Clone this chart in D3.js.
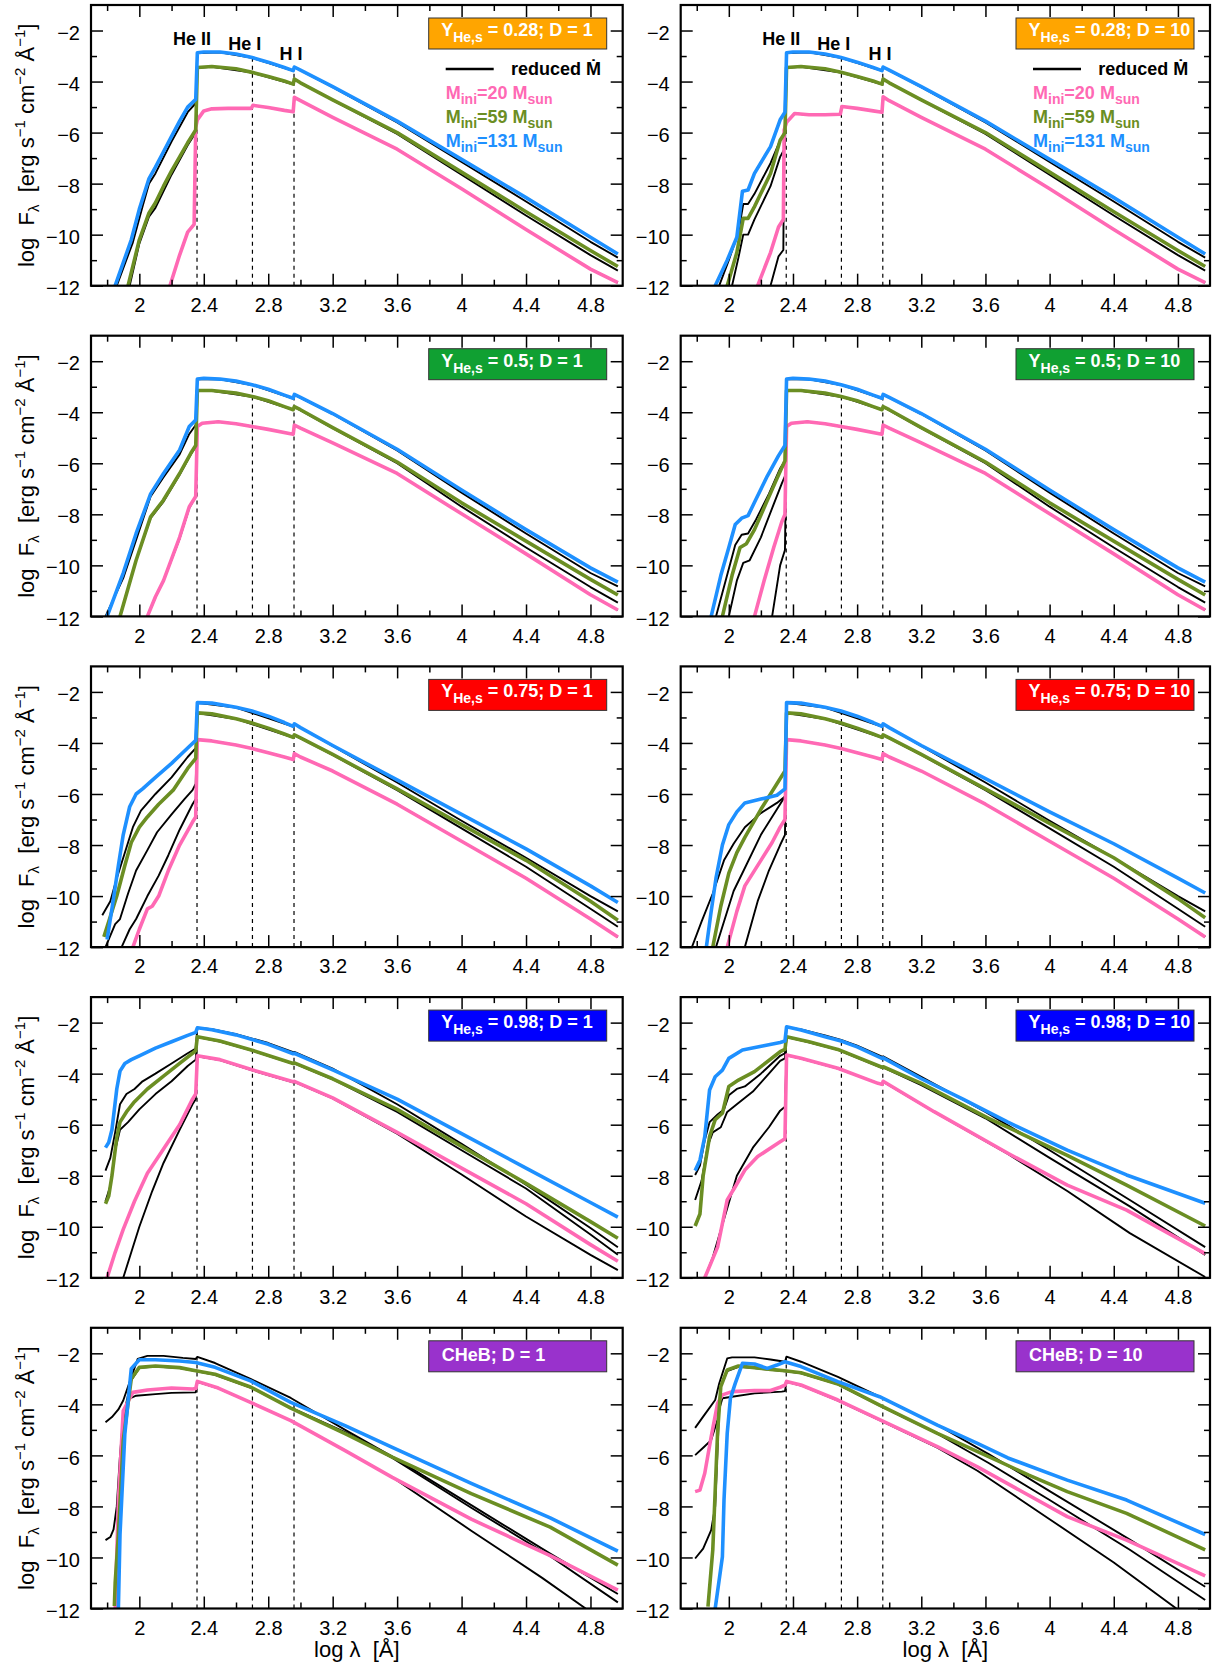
<!DOCTYPE html>
<html><head><meta charset="utf-8">
<script src="https://cdn.jsdelivr.net/npm/d3@7"></script>
<style>
body{margin:0;background:#fff}
svg{display:block}
text{font-family:"Liberation Sans",Arial,Helvetica,sans-serif;white-space:pre}
</style>
</head><body>
<svg id="c" width="1217" height="1673"></svg>
<script>
// ---------------- DATA ----------------
const yHeLabels = ["0.28", "0.5", "0.75", "0.98", null];
const dLabels = ["1", "10"];
const boxColors = ["#FFA500", "#10A032", "#FF0000", "#0000FF", "#9932CC"];
const edgeNames = ["He II", "He I", "H I"];
const edgeX = [2.358, 2.702, 2.960];
const edgeLabelPos = [[2.327, -2.57], [2.654, -2.76], [2.942, -3.16]];
const xMajor = [2, 2.4, 2.8, 3.2, 3.6, 4, 4.4, 4.8];
const xMinor = [1.8, 2.2, 2.6, 3.0, 3.4, 3.8, 4.2, 4.6];
const yMajor = [-2, -4, -6, -8, -10, -12];
const yMinor = [-3, -5, -7, -9, -11];
const massLabels = ["20", "59", "131"];

// row 1 (Y=0.28) shared upper parts
const r1_blueTop = [[2.36,-2.87],[2.4,-2.84],[2.5,-2.84],[2.6,-2.92],[2.7,-3.06],[2.8,-3.24],[2.9,-3.45],[2.955,-3.57],[2.962,-3.43],[3.0,-3.55],[3.2,-4.2],[3.6,-5.55],[4.0,-7.05],[4.4,-8.55],[4.8,-10.1],[4.97,-10.76]];
const r1_blueRTop = [[2.36,-2.88],[2.5,-2.85],[2.7,-3.07],[2.955,-3.58],[2.962,-3.44],[3.2,-4.22],[3.6,-5.6],[4.0,-7.15],[4.4,-8.7],[4.8,-10.28],[4.97,-10.9]];
const r1_greenTop = [[2.36,-3.45],[2.45,-3.41],[2.6,-3.5],[2.7,-3.64],[2.8,-3.8],[2.9,-3.98],[2.955,-4.1],[2.962,-3.9],[3.0,-4.05],[3.2,-4.72],[3.6,-6.0],[4.0,-7.55],[4.4,-9.1],[4.8,-10.62],[4.97,-11.25]];
const r1_greenRTop = [[2.36,-3.46],[2.45,-3.42],[2.7,-3.65],[2.955,-4.11],[2.962,-3.91],[3.2,-4.73],[3.6,-6.05],[4.0,-7.65],[4.4,-9.25],[4.8,-10.8],[4.97,-11.41]];
const p1_pinkTop = [[2.36,-5.5],[2.4,-5.15],[2.45,-5.07],[2.55,-5.05],[2.695,-5.05],[2.705,-4.93],[2.8,-5.02],[2.9,-5.13],[2.955,-5.18],[2.962,-4.62],[3.0,-4.75],[3.2,-5.4],[3.6,-6.65],[4.0,-8.2],[4.4,-9.8],[4.8,-11.35],[4.97,-11.88]];
const p2_pinkTop = [[2.36,-5.6],[2.41,-5.25],[2.5,-5.3],[2.6,-5.3],[2.695,-5.28],[2.705,-4.98],[2.8,-5.05],[2.9,-5.15],[2.955,-5.2],[2.962,-4.6],[3.0,-4.75],[3.2,-5.4],[3.6,-6.65],[4.0,-8.2],[4.4,-9.8],[4.8,-11.35],[4.97,-11.88]];

// panel 1: Y=0.28, D=1
const p1_blueRise = [[1.85,-12],[1.95,-10.2],[2.0,-9.0],[2.06,-7.8],[2.1,-7.35],[2.15,-6.75],[2.2,-6.15],[2.25,-5.55],[2.3,-5.0],[2.35,-4.7]];
const p1_blueRRise = [[1.86,-12],[1.96,-10.3],[2.02,-8.9],[2.06,-8.0],[2.1,-7.6],[2.2,-6.35],[2.3,-5.2],[2.35,-4.85]];
const p1_greenRise = [[1.93,-12],[2.0,-10.2],[2.06,-9.15],[2.1,-8.75],[2.15,-8.1],[2.2,-7.5],[2.25,-6.95],[2.3,-6.4],[2.35,-5.9]];
const p1_greenRRise = [[1.94,-12],[2.0,-10.35],[2.06,-9.3],[2.1,-8.95],[2.2,-7.65],[2.3,-6.5],[2.35,-6.0]];
const p1_pinkRise = [[2.19,-12],[2.25,-10.8],[2.3,-9.9],[2.34,-9.6],[2.35,-5.8]];
const p1_pinkRRise = [[2.19,-12],[2.25,-10.8],[2.3,-9.9],[2.34,-9.6],[2.35,-5.8]];

// panel 2: Y=0.28, D=10
const p2_blueRise = [[1.915,-12],[1.99,-11.0],[2.05,-10.1],[2.085,-8.3],[2.12,-8.25],[2.16,-7.6],[2.26,-6.55],[2.32,-5.5],[2.35,-5.2]];
const p2_blueRRise = [[1.94,-12],[2.0,-11.0],[2.06,-9.9],[2.09,-8.8],[2.12,-8.8],[2.16,-8.4],[2.26,-7.2],[2.32,-6.3],[2.35,-6.0]];
const p2_greenRise = [[1.99,-12],[2.05,-10.7],[2.09,-9.36],[2.12,-9.36],[2.16,-8.9],[2.26,-7.6],[2.32,-6.3],[2.35,-6.0]];
const p2_greenRRise = [[2.02,-12],[2.06,-10.9],[2.09,-10.0],[2.12,-10.0],[2.16,-9.4],[2.26,-8.1],[2.32,-6.95],[2.35,-6.6]];
const p2_pinkRise = [[2.18,-12],[2.26,-10.7],[2.31,-9.7],[2.34,-9.4],[2.345,-5.9]];
const p2_pinkRRise = [[2.26,-12],[2.31,-10.85],[2.34,-10.6],[2.345,-5.9]];

// row 2 (Y=0.5) shared upper parts
const r2_blueTop = [[2.36,-2.7],[2.4,-2.67],[2.5,-2.7],[2.6,-2.78],[2.7,-2.92],[2.8,-3.1],[2.9,-3.33],[2.955,-3.45],[2.962,-3.3],[3.0,-3.42],[3.2,-4.05],[3.6,-5.45],[4.0,-7.05],[4.4,-8.6],[4.8,-10.1],[4.97,-10.66]];
const r2_blueRTop = [[2.36,-2.71],[2.5,-2.71],[2.7,-2.93],[2.955,-3.46],[2.962,-3.31],[3.2,-4.07],[3.6,-5.5],[4.0,-7.15],[4.4,-8.75],[4.8,-10.3],[4.97,-10.82]];
const r2_greenTop = [[2.36,-3.15],[2.45,-3.15],[2.6,-3.25],[2.7,-3.38],[2.8,-3.55],[2.9,-3.78],[2.955,-3.9],[2.962,-3.78],[3.0,-3.9],[3.2,-4.6],[3.6,-5.95],[4.0,-7.55],[4.4,-9.05],[4.8,-10.55],[4.97,-11.16]];
const r2_greenRTop = [[2.36,-3.16],[2.45,-3.16],[2.7,-3.39],[2.955,-3.91],[2.962,-3.79],[3.2,-4.62],[3.6,-6.0],[4.0,-7.7],[4.4,-9.3],[4.8,-10.85],[4.97,-11.46]];
const r2_pinkTop = [[2.36,-4.56],[2.39,-4.43],[2.49,-4.37],[2.6,-4.45],[2.69,-4.55],[2.8,-4.67],[2.93,-4.83],[2.955,-4.86],[2.962,-4.5],[3.0,-4.62],[3.2,-5.2],[3.6,-6.4],[4.0,-7.98],[4.4,-9.55],[4.8,-11.15],[4.97,-11.75]];

// panel 3: Y=0.5, D=1
const p3_blueRise = [[1.8,-12],[1.9,-10.3],[1.98,-8.75],[2.07,-7.2],[2.15,-6.4],[2.25,-5.48],[2.31,-4.56],[2.35,-4.3]];
const p3_blueRRise = [[1.79,-12],[1.9,-10.5],[1.98,-9.0],[2.07,-7.3],[2.15,-6.55],[2.25,-5.65],[2.31,-4.85],[2.35,-4.5]];
const p3_greenRise = [[1.88,-12],[1.98,-9.8],[2.07,-8.1],[2.15,-7.44],[2.25,-6.4],[2.32,-5.6],[2.35,-5.3]];
const p3_greenRRise = [[1.88,-12],[1.98,-9.8],[2.07,-8.15],[2.15,-7.5],[2.25,-6.45],[2.32,-5.65],[2.35,-5.35]];
const p3_pinkRise = [[2.05,-12],[2.1,-11.23],[2.15,-10.6],[2.25,-8.9],[2.31,-7.7],[2.35,-7.3]];
const p3_pinkRRise = [[2.05,-12],[2.1,-11.25],[2.15,-10.6],[2.25,-8.95],[2.31,-7.75],[2.35,-7.3]];

// panel 4: Y=0.5, D=10
const p4_blueRise = [[1.89,-12],[1.95,-10.4],[2.0,-9.3],[2.04,-8.4],[2.08,-8.15],[2.12,-8.05],[2.17,-7.4],[2.24,-6.5],[2.31,-5.7],[2.35,-5.3]];
const p4_blueRRise = [[1.92,-12],[1.98,-10.6],[2.04,-9.2],[2.08,-8.8],[2.12,-8.75],[2.17,-8.2],[2.25,-7.2],[2.32,-6.2],[2.35,-5.9]];
const p4_greenRise = [[1.96,-12],[2.02,-10.4],[2.07,-9.3],[2.11,-9.15],[2.16,-8.6],[2.23,-7.6],[2.3,-6.6],[2.35,-5.9]];
const p4_greenRRise = [[2.0,-12],[2.05,-10.6],[2.09,-9.9],[2.13,-9.8],[2.2,-8.9],[2.28,-7.6],[2.33,-6.8],[2.35,-6.5]];
const p4_pinkRise = [[2.16,-12],[2.22,-10.6],[2.28,-9.3],[2.33,-8.3],[2.35,-8.0]];
const p4_pinkRRise = [[2.27,-12],[2.32,-10.0],[2.35,-9.4]];

// row 3 (Y=0.75) shared upper parts
const r3_blueTop = [[2.36,-2.42],[2.45,-2.44],[2.6,-2.6],[2.7,-2.75],[2.8,-2.95],[2.9,-3.2],[2.955,-3.35],[2.962,-3.25],[3.0,-3.4],[3.2,-4.1]];
const r3_blueRTop = [[2.36,-2.43],[2.6,-2.61],[2.955,-3.36],[2.962,-3.26],[3.2,-4.12],[3.6,-5.55],[4.0,-7.05],[4.4,-8.5],[4.8,-10.0],[4.97,-10.6]];
const r3_greenTop = [[2.36,-2.82],[2.45,-2.86],[2.6,-3.05],[2.7,-3.22],[2.8,-3.42],[2.9,-3.65],[2.955,-3.78],[2.962,-3.68],[3.0,-3.8],[3.2,-4.45]];
const r3_greenRTop = [[2.36,-2.83],[2.6,-3.06],[2.955,-3.79],[2.962,-3.69],[3.2,-4.47],[3.6,-5.85],[4.0,-7.35],[4.4,-8.85],[4.8,-10.5],[4.97,-11.2]];
const r3_pinkTop = [[2.36,-3.87],[2.45,-3.92],[2.6,-4.08],[2.7,-4.22],[2.8,-4.38],[2.9,-4.55],[2.955,-4.65],[2.962,-4.42],[3.0,-4.55],[3.2,-5.1],[3.6,-6.4],[4.0,-7.85],[4.4,-9.3],[4.8,-10.9],[4.97,-11.6]];

// panel 5: Y=0.75, D=1
const p5_blueRise = [[1.8,-11.7],[1.83,-10.5],[1.87,-8.8],[1.9,-7.6],[1.94,-6.5],[1.98,-6.0],[2.02,-5.8],[2.1,-5.35],[2.2,-4.8],[2.3,-4.2],[2.35,-3.9]];
const p5_blueTail = [[3.6,-5.45],[4.0,-6.8],[4.4,-8.15],[4.8,-9.6],[4.97,-10.25]];
const p5_blueRRise = [[1.77,-10.75],[1.82,-10.2],[1.86,-9.3],[1.91,-8.3],[1.96,-7.3],[2.01,-6.65],[2.1,-6.0],[2.2,-5.35],[2.3,-4.55],[2.35,-4.2]];
const p5_greenRise = [[1.78,-11.6],[1.82,-10.8],[1.86,-10.0],[1.91,-8.8],[1.95,-7.9],[2.0,-7.3],[2.05,-6.9],[2.12,-6.4],[2.21,-5.85],[2.3,-5.0],[2.35,-4.6]];
const p5_greenTail = [[3.6,-5.8],[4.0,-7.2],[4.4,-8.6],[4.8,-10.2],[4.97,-10.95]];
const p5_greenRRise = [[1.79,-12],[1.85,-11.1],[1.88,-10.9],[1.93,-9.9],[1.98,-9.0],[2.05,-8.2],[2.11,-7.5],[2.2,-6.8],[2.28,-6.2],[2.33,-5.85],[2.35,-5.6]];
const p5_pinkRise = [[1.96,-12],[2.0,-11.3],[2.05,-10.5],[2.08,-10.4],[2.12,-10.0],[2.18,-9.0],[2.25,-8.0],[2.33,-7.1],[2.35,-6.9]];
const p5_pinkRRise = [[1.89,-12],[1.94,-11.3],[1.98,-10.9],[2.05,-10.0],[2.12,-9.2],[2.18,-8.4],[2.25,-7.4],[2.33,-6.4],[2.35,-6.2]];

// panel 6: Y=0.75, D=10
const p6_blueRise = [[1.86,-12],[1.89,-10.6],[1.92,-9.3],[1.96,-8.0],[2.0,-7.2],[2.05,-6.7],[2.1,-6.35],[2.2,-6.2],[2.3,-6.05],[2.35,-5.8]];
const p6_blueTail = [[3.6,-5.4],[4.0,-6.7],[4.4,-7.95],[4.8,-9.3],[4.97,-9.88]];
const p6_blueRRise = [[1.77,-12],[1.83,-11.0],[1.9,-9.9],[1.97,-8.6],[2.03,-7.95],[2.1,-7.3],[2.2,-6.75],[2.3,-6.35],[2.35,-6.1]];
const p6_greenRise = [[1.9,-12],[1.95,-10.4],[2.0,-9.1],[2.05,-8.3],[2.1,-7.7],[2.2,-6.6],[2.3,-5.6],[2.35,-5.1]];
const p6_greenTail = [[3.6,-5.8],[4.0,-7.15],[4.4,-8.5],[4.8,-10.1],[4.97,-10.85]];
const p6_greenRRise = [[1.92,-12],[1.97,-11.0],[2.03,-9.8],[2.1,-8.9],[2.2,-7.6],[2.3,-6.6],[2.35,-6.1]];
const p6_pinkRise = [[1.99,-12],[2.05,-10.6],[2.1,-9.6],[2.15,-9.1],[2.2,-8.6],[2.27,-7.9],[2.32,-7.3],[2.35,-7.0]];
const p6_pinkRRise = [[2.1,-12],[2.18,-10.2],[2.25,-9.0],[2.32,-8.0],[2.35,-7.6]];

// panel 7: Y=0.98, D=1
const p7_blue = [[1.79,-6.9],[1.81,-6.7],[1.83,-6.2],[1.86,-4.6],[1.88,-3.9],[1.91,-3.6],[1.95,-3.45],[2.0,-3.3],[2.1,-3.0],[2.2,-2.75],[2.3,-2.5],[2.35,-2.38],[2.36,-2.2],[2.45,-2.28],[2.6,-2.48],[2.8,-2.85],[2.955,-3.22],[2.962,-3.2],[3.2,-3.85],[3.6,-5.0],[4.0,-6.35],[4.4,-7.7],[4.8,-9.05],[4.97,-9.62]];
const p7_blueR = [[1.79,-7.8],[1.82,-7.3],[1.85,-6.3],[1.88,-5.2],[1.92,-4.8],[1.97,-4.6],[2.02,-4.3],[2.1,-4.0],[2.2,-3.6],[2.3,-3.2],[2.35,-3.02],[2.36,-2.2],[2.45,-2.26],[2.6,-2.45],[2.8,-2.8],[2.955,-3.16],[2.962,-3.15],[3.2,-3.8],[3.6,-5.2],[4.0,-6.75],[4.4,-8.35],[4.8,-10.05],[4.97,-10.8]];
const p7_green = [[1.79,-9.1],[1.81,-8.8],[1.83,-8.0],[1.86,-6.5],[1.88,-5.9],[1.92,-5.5],[1.97,-5.1],[2.05,-4.6],[2.15,-4.1],[2.25,-3.6],[2.33,-3.2],[2.35,-3.1],[2.36,-2.55],[2.5,-2.72],[2.7,-3.08],[2.955,-3.6],[2.962,-3.58],[3.2,-4.2],[3.6,-5.4],[4.0,-6.85],[4.4,-8.3],[4.8,-9.8],[4.97,-10.45]];
const p7_greenR = [[1.79,-9.0],[1.82,-8.4],[1.85,-7.0],[1.88,-6.2],[1.93,-5.9],[2.0,-5.4],[2.1,-4.8],[2.2,-4.3],[2.3,-3.7],[2.35,-3.45],[2.36,-2.57],[2.5,-2.74],[2.7,-3.1],[2.955,-3.62],[2.962,-3.6],[3.2,-4.22],[3.6,-5.5],[4.0,-7.0],[4.4,-8.5],[4.8,-10.3],[4.97,-11.1]];
const p7_pink = [[1.8,-12],[1.85,-11.0],[1.9,-10.1],[1.97,-9.0],[2.05,-7.9],[2.15,-6.95],[2.25,-6.0],[2.33,-5.0],[2.35,-4.8],[2.36,-3.3],[2.5,-3.45],[2.7,-3.85],[2.955,-4.32],[2.962,-4.3],[3.2,-4.95],[3.6,-6.3],[4.0,-7.7],[4.4,-9.1],[4.8,-10.7],[4.97,-11.35]];
const p7_pinkR = [[1.9,-12],[1.95,-11.0],[2.0,-10.0],[2.08,-8.6],[2.15,-7.5],[2.25,-6.2],[2.33,-5.2],[2.35,-5.0],[2.36,-3.32],[2.5,-3.47],[2.7,-3.87],[2.955,-4.34],[2.962,-4.32],[3.2,-4.97],[3.6,-6.35],[4.0,-7.95],[4.4,-9.6],[4.8,-11.1],[4.97,-11.7]];

// panel 8: Y=0.98, D=10
const p8_blue = [[1.79,-7.8],[1.82,-7.39],[1.85,-6.47],[1.88,-4.64],[1.915,-4.12],[1.96,-3.86],[2.0,-3.4],[2.085,-3.07],[2.21,-2.92],[2.32,-2.78],[2.35,-2.72],[2.36,-2.16],[2.45,-2.29],[2.6,-2.55],[2.7,-2.72],[2.8,-2.95],[2.955,-3.4],[2.962,-3.38],[3.2,-4.2],[3.46,-5.0],[3.74,-5.9],[4.11,-7.0],[4.48,-7.97],[4.97,-9.08]];
const p8_blueR = [[1.79,-7.97],[1.82,-7.6],[1.85,-6.6],[1.88,-5.9],[1.93,-5.6],[1.97,-5.4],[2.0,-4.85],[2.05,-4.6],[2.1,-4.5],[2.2,-4.0],[2.32,-3.3],[2.35,-3.2],[2.36,-2.18],[2.45,-2.27],[2.6,-2.5],[2.7,-2.68],[2.8,-2.9],[2.955,-3.33],[2.962,-3.32],[3.2,-4.12],[3.6,-5.5],[4.0,-7.0],[4.5,-8.95],[4.97,-10.8]];
const p8_green = [[1.79,-9.97],[1.82,-9.5],[1.84,-8.0],[1.88,-6.47],[1.915,-5.8],[1.96,-5.55],[2.0,-4.5],[2.06,-4.25],[2.16,-3.92],[2.32,-3.14],[2.35,-3.05],[2.36,-2.55],[2.5,-2.75],[2.68,-3.05],[2.955,-3.75],[2.962,-3.73],[3.2,-4.38],[3.62,-5.75],[4.11,-7.2],[4.48,-8.37],[4.97,-9.97]];
const p8_greenR = [[1.79,-8.95],[1.83,-8.2],[1.87,-6.8],[1.9,-6.3],[1.95,-6.1],[1.99,-5.5],[2.05,-5.2],[2.15,-4.7],[2.25,-4.0],[2.32,-3.5],[2.35,-3.4],[2.36,-2.57],[2.5,-2.77],[2.68,-3.07],[2.955,-3.77],[2.962,-3.75],[3.2,-4.45],[3.6,-5.75],[4.0,-7.3],[4.5,-9.2],[4.97,-11.1]];
const p8_pink = [[1.85,-12],[1.93,-10.8],[1.99,-8.95],[2.04,-8.43],[2.1,-7.78],[2.18,-7.25],[2.32,-6.67],[2.35,-6.55],[2.36,-3.27],[2.45,-3.4],[2.68,-3.79],[2.93,-4.38],[2.955,-4.42],[2.962,-4.3],[3.28,-5.49],[3.74,-7.12],[4.11,-8.37],[4.48,-9.35],[4.97,-11.05]];
const p8_pinkR = [[1.85,-12],[1.9,-11.2],[1.97,-9.7],[2.05,-8.0],[2.15,-6.9],[2.25,-6.1],[2.32,-5.45],[2.35,-5.3],[2.36,-3.28],[2.45,-3.41],[2.68,-3.8],[2.955,-4.43],[2.962,-4.31],[3.28,-5.5],[3.74,-7.15],[4.11,-8.6],[4.5,-10.25],[4.97,-11.97]];

// panel 9: CHeB, D=1
const p9_blue = [[1.87,-12],[1.88,-9.1],[1.91,-5.16],[1.95,-2.6],[2.0,-2.25],[2.1,-2.25],[2.25,-2.3],[2.35,-2.36],[2.47,-2.55],[2.69,-3.08],[2.94,-3.92],[3.28,-4.84],[3.57,-5.69],[4.06,-7.1],[4.55,-8.45],[4.97,-9.75]];
const p9_blueR = [[1.79,-4.7],[1.83,-4.5],[1.87,-4.2],[1.9,-3.85],[1.95,-2.94],[1.99,-2.22],[2.05,-2.1],[2.15,-2.1],[2.27,-2.18],[2.35,-2.22],[2.36,-2.14],[2.47,-2.38],[2.69,-3.0],[2.94,-3.75],[3.28,-5.01],[3.57,-6.05],[4.06,-7.95],[4.55,-9.85],[4.97,-11.43]];
const p9_green = [[1.845,-11.9],[1.85,-11.0],[1.87,-9.1],[1.9,-5.42],[1.95,-3.0],[2.0,-2.55],[2.1,-2.5],[2.25,-2.56],[2.35,-2.68],[2.47,-2.82],[2.69,-3.32],[2.94,-4.15],[3.28,-5.16],[3.57,-6.07],[4.06,-7.5],[4.55,-8.81],[4.97,-10.3]];
const p9_greenR = [[1.79,-9.32],[1.82,-9.2],[1.84,-8.9],[1.86,-8.0],[1.88,-6.0],[1.9,-4.5],[1.95,-3.05],[2.0,-2.57],[2.1,-2.52],[2.25,-2.58],[2.35,-2.7],[2.47,-2.84],[2.69,-3.34],[2.94,-4.13],[3.28,-5.1],[3.57,-6.1],[4.06,-8.05],[4.55,-9.95],[4.97,-11.76]];
const p9_pink = [[1.85,-12],[1.87,-7.8],[1.9,-4.25],[1.96,-3.53],[2.05,-3.44],[2.2,-3.36],[2.33,-3.4],[2.35,-3.38],[2.36,-3.1],[2.49,-3.36],[2.69,-3.92],[2.94,-4.64],[3.28,-5.82],[3.57,-6.86],[4.06,-8.5],[4.55,-9.93],[4.97,-11.28]];
const p9_pinkR = [[1.86,-12],[1.88,-8.0],[1.9,-4.6],[1.93,-3.8],[1.98,-3.66],[2.1,-3.6],[2.2,-3.55],[2.35,-3.53],[2.36,-3.12],[2.49,-3.37],[2.69,-3.92],[2.94,-4.64],[3.28,-5.82],[3.57,-6.86],[4.06,-8.95],[4.5,-10.8],[4.77,-12]];

// panel 10: CHeB, D=10
const p10_blue = [[1.915,-12],[1.96,-9.97],[1.97,-7.75],[1.99,-5.14],[2.01,-3.76],[2.04,-3.18],[2.085,-2.39],[2.16,-2.42],[2.24,-2.59],[2.3,-2.46],[2.35,-2.33],[2.45,-2.52],[2.68,-3.11],[2.94,-3.7],[3.3,-4.81],[3.55,-5.53],[3.74,-6.1],[4.11,-6.97],[4.48,-7.75],[4.97,-9.1]];
const p10_blueR = [[1.79,-4.92],[1.84,-4.48],[1.915,-3.83],[1.94,-3.18],[1.99,-2.2],[2.02,-2.16],[2.16,-2.16],[2.26,-2.24],[2.35,-2.33],[2.36,-2.13],[2.45,-2.33],[2.68,-2.92],[2.94,-3.7],[3.3,-4.81],[3.62,-5.95],[4.0,-7.4],[4.5,-9.3],[4.97,-11.15]];
const p10_green = [[1.87,-11.93],[1.9,-9.7],[1.93,-5.1],[1.95,-3.3],[1.99,-2.65],[2.06,-2.5],[2.16,-2.56],[2.26,-2.63],[2.35,-2.68],[2.45,-2.76],[2.68,-3.2],[2.94,-4.03],[3.3,-5.14],[3.62,-6.05],[3.87,-6.77],[4.11,-7.42],[4.48,-8.27],[4.97,-9.7]];
const p10_greenR = [[1.79,-5.99],[1.84,-5.7],[1.89,-5.4],[1.93,-4.6],[1.95,-3.3],[1.99,-2.7],[2.06,-2.53],[2.16,-2.58],[2.26,-2.65],[2.35,-2.7],[2.45,-2.78],[2.68,-3.22],[2.94,-4.05],[3.3,-5.15],[3.62,-6.3],[4.0,-7.75],[4.5,-9.7],[4.97,-11.67]];
const p10_pink = [[1.79,-7.42],[1.82,-7.36],[1.85,-6.7],[1.89,-5.27],[1.93,-3.96],[1.96,-3.63],[2.02,-3.5],[2.16,-3.46],[2.26,-3.46],[2.32,-3.33],[2.35,-3.25],[2.36,-3.1],[2.45,-3.24],[2.68,-3.83],[2.94,-4.6],[3.3,-5.66],[3.55,-6.45],[4.11,-8.4],[4.48,-9.32],[4.97,-10.72]];
const p10_pinkR = [[1.79,-10.04],[1.84,-9.65],[1.89,-8.93],[1.915,-8.0],[1.94,-4.2],[1.96,-3.76],[2.02,-3.7],[2.16,-3.57],[2.33,-3.5],[2.35,-3.48],[2.36,-3.12],[2.45,-3.26],[2.68,-3.85],[2.94,-4.62],[3.3,-5.7],[3.55,-6.6],[4.0,-8.5],[4.4,-10.2],[4.79,-12]];

// assemble series per panel (row-major)
const panelSeries = [
  {blue:p1_blueRise.concat(r1_blueTop), blueR:p1_blueRRise.concat(r1_blueRTop), green:p1_greenRise.concat(r1_greenTop), greenR:p1_greenRRise.concat(r1_greenRTop), pink:p1_pinkRise.concat(p1_pinkTop), pinkR:p1_pinkRRise.concat(p1_pinkTop)},
  {blue:p2_blueRise.concat(r1_blueTop), blueR:p2_blueRRise.concat(r1_blueRTop), green:p2_greenRise.concat(r1_greenTop), greenR:p2_greenRRise.concat(r1_greenRTop), pink:p2_pinkRise.concat(p2_pinkTop), pinkR:p2_pinkRRise.concat(p2_pinkTop)},
  {blue:p3_blueRise.concat(r2_blueTop), blueR:p3_blueRRise.concat(r2_blueRTop), green:p3_greenRise.concat(r2_greenTop), greenR:p3_greenRRise.concat(r2_greenRTop), pink:p3_pinkRise.concat(r2_pinkTop), pinkR:p3_pinkRRise.concat(r2_pinkTop)},
  {blue:p4_blueRise.concat(r2_blueTop), blueR:p4_blueRRise.concat(r2_blueRTop), green:p4_greenRise.concat(r2_greenTop), greenR:p4_greenRRise.concat(r2_greenRTop), pink:p4_pinkRise.concat(r2_pinkTop), pinkR:p4_pinkRRise.concat(r2_pinkTop)},
  {blue:p5_blueRise.concat(r3_blueTop, p5_blueTail), blueR:p5_blueRRise.concat(r3_blueRTop), green:p5_greenRise.concat(r3_greenTop, p5_greenTail), greenR:p5_greenRRise.concat(r3_greenRTop), pink:p5_pinkRise.concat(r3_pinkTop), pinkR:p5_pinkRRise.concat(r3_pinkTop)},
  {blue:p6_blueRise.concat(r3_blueTop, p6_blueTail), blueR:p6_blueRRise.concat(r3_blueRTop), green:p6_greenRise.concat(r3_greenTop, p6_greenTail), greenR:p6_greenRRise.concat(r3_greenRTop), pink:p6_pinkRise.concat(r3_pinkTop), pinkR:p6_pinkRRise.concat(r3_pinkTop)},
  {blue:p7_blue, blueR:p7_blueR, green:p7_green, greenR:p7_greenR, pink:p7_pink, pinkR:p7_pinkR},
  {blue:p8_blue, blueR:p8_blueR, green:p8_green, greenR:p8_greenR, pink:p8_pink, pinkR:p8_pinkR},
  {blue:p9_blue, blueR:p9_blueR, green:p9_green, greenR:p9_greenR, pink:p9_pink, pinkR:p9_pinkR},
  {blue:p10_blue, blueR:p10_blueR, green:p10_green, greenR:p10_greenR, pink:p10_pink, pinkR:p10_pinkR}
];

// ---------------- DRAWING ----------------
const COL = {pink:"#FF69B4", green:"#6B8E23", blue:"#1E90FF"};
const svg = d3.select("#c");
const colX = [[91, 622.7], [680.7, 1210]];
const rowTop0 = 5, rowPitch = 330.7, panelH = 280.7;

function valAt(arr, xv) {
  for (let i = 0; i < arr.length - 1; i++) {
    const a = arr[i], b = arr[i+1];
    if (xv >= a[0] && xv <= b[0]) {
      const t = (b[0] === a[0]) ? 1 : (xv - a[0]) / (b[0] - a[0]);
      return a[1] + t * (b[1] - a[1]);
    }
  }
  return -Infinity;
}

panelSeries.forEach((ser, idx) => {
  const r = Math.floor(idx / 2), c = idx % 2;
  const x0 = colX[c][0], x1 = colX[c][1];
  const y0 = rowTop0 + r * rowPitch, y1 = y0 + panelH;
  const x = d3.scaleLinear().domain([1.7, 5.0]).range([x0, x1]);
  const y = d3.scaleLinear().domain([-12, -1]).range([y1, y0]);
  const g = svg.append("g");
  const clipId = "clip" + idx;
  g.append("clipPath").attr("id", clipId).append("rect")
    .attr("x", x0).attr("y", y0).attr("width", x1 - x0).attr("height", y1 - y0);
  const plot = g.append("g").attr("clip-path", `url(#${clipId})`);

  // dashed edge lines
  const allSeries = [ser.blue, ser.blueR, ser.green, ser.greenR, ser.pink, ser.pinkR];
  edgeX.forEach(ex => {
    const top = d3.max(allSeries, s => valAt(s, ex + 0.004));
    plot.append("line")
      .attr("x1", x(ex)).attr("x2", x(ex))
      .attr("y1", y(-12)).attr("y2", y(top))
      .attr("stroke", "#000").attr("stroke-width", 1.2)
      .attr("stroke-dasharray", "4,4");
  });

  const line = d3.line().x(d => x(d[0])).y(d => y(d[1]));
  [ser.blueR, ser.greenR, ser.pinkR].forEach(s => {
    plot.append("path").attr("d", line(s)).attr("fill", "none")
      .attr("stroke", "#000").attr("stroke-width", 1.9).attr("stroke-linejoin", "round");
  });
  [["pink", ser.pink], ["green", ser.green], ["blue", ser.blue]].forEach(([k, s]) => {
    plot.append("path").attr("d", line(s)).attr("fill", "none")
      .attr("stroke", COL[k]).attr("stroke-width", 3.6).attr("stroke-linejoin", "round");
  });

  // axes (ticks inward on all sides)
  const fmt = d3.format("~g");
  const axB = g.append("g").attr("transform", `translate(0,${y1})`)
    .call(d3.axisBottom(x).tickValues(xMajor).tickSize(-12).tickPadding(12).tickFormat(fmt));
  const axBm = g.append("g").attr("transform", `translate(0,${y1})`)
    .call(d3.axisBottom(x).tickValues(xMinor).tickSize(-6).tickFormat(""));
  const axT = g.append("g").attr("transform", `translate(0,${y0})`)
    .call(d3.axisTop(x).tickValues(xMajor).tickSize(-12).tickFormat(""));
  const axTm = g.append("g").attr("transform", `translate(0,${y0})`)
    .call(d3.axisTop(x).tickValues(xMinor).tickSize(-6).tickFormat(""));
  const axL = g.append("g").attr("transform", `translate(${x0},0)`)
    .call(d3.axisLeft(y).tickValues(yMajor).tickSize(-12).tickPadding(11).tickFormat(fmt));
  const axLm = g.append("g").attr("transform", `translate(${x0},0)`)
    .call(d3.axisLeft(y).tickValues(yMinor).tickSize(-6).tickFormat(""));
  const axR = g.append("g").attr("transform", `translate(${x1},0)`)
    .call(d3.axisRight(y).tickValues(yMajor).tickSize(-12).tickFormat(""));
  const axRm = g.append("g").attr("transform", `translate(${x1},0)`)
    .call(d3.axisRight(y).tickValues(yMinor).tickSize(-6).tickFormat(""));
  [axB, axBm, axT, axTm, axL, axLm, axR, axRm].forEach(a => {
    a.select(".domain").remove();
    a.selectAll(".tick line").attr("stroke", "#000").attr("stroke-width", 1.5);
    a.selectAll(".tick text").attr("fill", "#000").attr("font-size", 20)
      .attr("font-family", '"Liberation Sans",Arial,Helvetica,sans-serif');
  });
  axL.selectAll(".tick text").attr("dy", "0.43em");

  // frame
  g.append("rect").attr("x", x0).attr("y", y0).attr("width", x1 - x0).attr("height", y1 - y0)
    .attr("fill", "none").attr("stroke", "#000").attr("stroke-width", 2.2);

  // label box
  const bx = x1 - 194, by = y0 + 13;
  g.append("rect").attr("x", bx).attr("y", by).attr("width", 178).attr("height", 31)
    .attr("fill", boxColors[r]).attr("stroke", "#333").attr("stroke-width", 1);
  if (yHeLabels[r] !== null) {
    const t = g.append("text").attr("x", bx + 12.5).attr("y", by + 18)
      .attr("fill", "#fff").attr("font-weight", "bold").attr("font-size", 18);
    t.append("tspan").text("Y");
    t.append("tspan").attr("dy", 6).attr("font-size", 14).text("He,s");
    t.append("tspan").attr("dy", -6).text(" = " + yHeLabels[r] + "; D = " + dLabels[c]);
  } else {
    g.append("text").attr("x", bx + 13).attr("y", by + 20.5)
      .attr("fill", "#fff").attr("font-weight", "bold").attr("font-size", 18)
      .text("CHeB; D = " + dLabels[c]);
  }

  // row-1 annotations
  if (r === 0) {
    edgeNames.forEach((nm, i) => {
      g.append("text").attr("x", x(edgeLabelPos[i][0])).attr("y", y(edgeLabelPos[i][1]))
        .attr("text-anchor", "middle").attr("font-weight", "bold").attr("font-size", 18)
        .attr("fill", "#000").text(nm);
    });
    g.append("line").attr("x1", x1 - 177).attr("x2", x1 - 129)
      .attr("y1", y0 + 64).attr("y2", y0 + 64).attr("stroke", "#000").attr("stroke-width", 2.5);
    g.append("text").attr("x", x1 - 111.7).attr("y", y0 + 70)
      .attr("font-weight", "bold").attr("font-size", 18).attr("fill", "#000").text("reduced \u1E40");
    ["pink", "green", "blue"].forEach((k, i) => {
      const t = g.append("text").attr("x", x1 - 177).attr("y", y0 + 94 + 24 * i)
        .attr("font-weight", "bold").attr("font-size", 18).attr("fill", COL[k]);
      t.append("tspan").text("M");
      t.append("tspan").attr("dy", 5).attr("font-size", 14).text("ini");
      t.append("tspan").attr("dy", -5).text("=" + massLabels[i] + " M");
      t.append("tspan").attr("dy", 5).attr("font-size", 14).text("sun");
    });
  }

  // y axis title (left column)
  if (c === 0) {
    const cy = (y0 + y1) / 2;
    const t = g.append("text").attr("transform", `translate(34,${cy}) rotate(-90)`)
      .attr("text-anchor", "middle").attr("font-size", 22).attr("fill", "#000");
    t.append("tspan").text("log\u00A0\u00A0F");
    t.append("tspan").attr("dy", 5).attr("font-size", 15).text("\u03BB");
    t.append("tspan").attr("dy", -5).text("\u00A0\u00A0[erg s");
    t.append("tspan").attr("dy", -9).attr("font-size", 15).text("\u22121");
    t.append("tspan").attr("dy", 9).text(" cm");
    t.append("tspan").attr("dy", -9).attr("font-size", 15).text("\u22122");
    t.append("tspan").attr("dy", 9).text(" \u00C5");
    t.append("tspan").attr("dy", -9).attr("font-size", 15).text("\u22121");
    t.append("tspan").attr("dy", 9).text("]");
  }
  // x axis title (bottom row)
  if (r === 4) {
    g.append("text").attr("x", (x0 + x1) / 2).attr("y", 1657)
      .attr("text-anchor", "middle").attr("font-size", 22).attr("fill", "#000")
      .text("log \u03BB\u00A0\u00A0[\u00C5]");
  }
});
</script>
</body></html>
